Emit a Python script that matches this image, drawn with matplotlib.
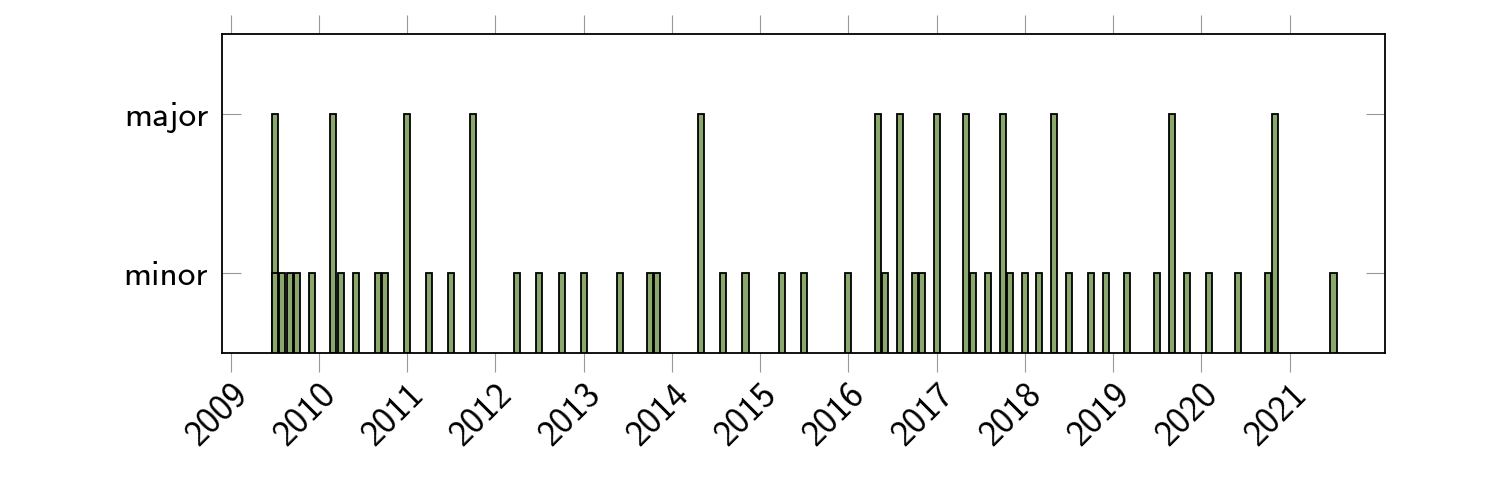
import matplotlib
matplotlib.use("Agg")
import matplotlib.pyplot as plt
import matplotlib.dates as mdates
import datetime as dt

# month offsets from Jan 2009 (0 = 2009-01)
major_months = [6, 14, 24, 33, 64, 88, 91, 96, 100, 105, 112, 128, 142]
minor_months = [6, 7, 8, 9, 11, 15, 17, 20, 21, 27, 30, 39, 42, 45, 48, 53, 57, 58,
                67, 70, 75, 78, 84, 89, 93, 94, 101, 103, 106, 108, 110, 114, 117,
                119, 122, 126, 130, 133, 137, 141, 150]
major_value = 2
minor_value = 1
y_ticks = [1, 2]
y_labels = ["minor", "major"]
year_ticks = list(range(2009, 2022))


def month_to_date(m):
    return dt.date(2009 + m // 12, m % 12 + 1, 1)


major_dates = [month_to_date(m) for m in major_months]
minor_dates = [month_to_date(m) for m in minor_months]

plt.rcParams['font.family'] = ['cmss10', 'DejaVu Sans']
plt.rcParams['axes.formatter.use_mathtext'] = True

fig = plt.figure(figsize=(15, 5), dpi=100)
ax = fig.add_axes([0.148, 0.294, 0.7753, 0.638])

fill = '#8aa86b'
base = 0.5
w = 25
ax.bar(major_dates, [major_value - base] * len(major_dates), bottom=base, width=w,
       color=fill, edgecolor='black', linewidth=1.3, zorder=2)
ax.bar(minor_dates, [minor_value - base] * len(minor_dates), bottom=base, width=w,
       color=fill, edgecolor='black', linewidth=1.3, zorder=3)

ax.set_ylim(0.5, 2.5)
ax.set_xlim(dt.date(2008, 11, 25), dt.date(2022, 1, 30))
ax.set_yticks(y_ticks)
ax.set_yticklabels(y_labels, fontsize=25.5)
ax.set_xticks([dt.date(y, 1, 1) for y in year_ticks])
ax.set_xticklabels([str(y) for y in year_ticks], fontsize=26, rotation=45,
                   ha='right', va='top', rotation_mode='anchor')

ax.tick_params(axis='x', which='major', direction='out', length=14, width=0.8,
               color='#999999', top=True, bottom=True, pad=4)
ax.tick_params(axis='y', which='major', direction='in', length=14, width=0.8,
               color='#999999', left=True, right=True, pad=10)
for s in ax.spines.values():
    s.set_linewidth(1.3)
    s.set_color('black')

fig.savefig('out.png', dpi=100)
